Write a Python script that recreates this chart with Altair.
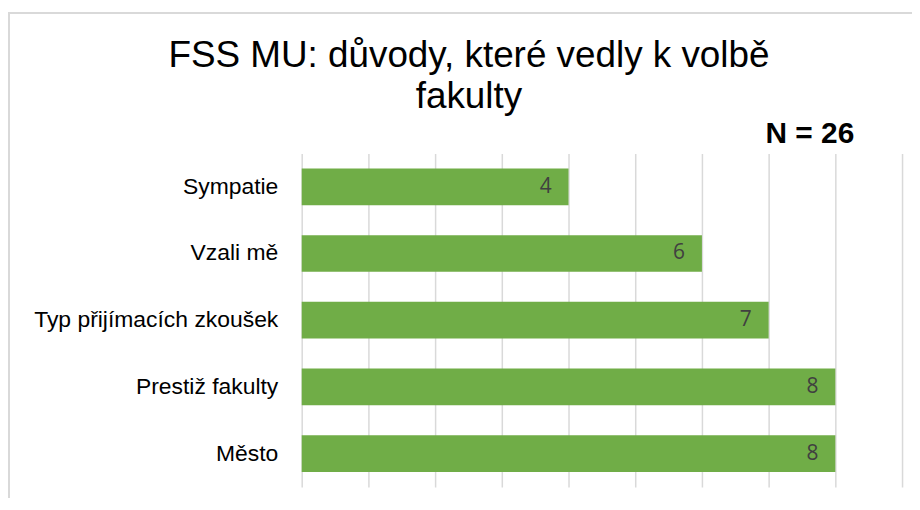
import altair as alt
import pandas as pd

categories = ["Sympatie", "Vzali mě", "Typ přijímacích zkoušek", "Prestiž fakulty", "Město"]
counts = [4, 6, 7, 8, 8]
x_ticks = list(range(0, 10))
title_lines = ["FSS MU: důvody, které vedly k volbě", "fakulty"]
note = "N = 26"

df = pd.DataFrame({"reason": categories, "count": counts})
note_df = pd.DataFrame({"t": [note]})
title_df = pd.DataFrame({"t": ["\n".join(title_lines)]})

y_enc = alt.Y(
    "reason:N", sort=categories, title=None,
    scale=alt.Scale(paddingInner=0.45, paddingOuter=0.225),
    axis=alt.Axis(labelFont="Liberation Sans", labelFontSize=23, labelColor="#000000",
                  labelPadding=24, ticks=False, domain=False, grid=False, labelLimit=400),
)
x_enc = alt.X(
    "count:Q", title=None, scale=alt.Scale(domain=[0, 9], nice=False),
    axis=alt.Axis(values=x_ticks, labels=False, ticks=False, domain=False, grid=True,
                  gridColor="#d9d9d9", gridWidth=1.5),
)

border = alt.Chart(note_df).mark_rect(fillOpacity=0, stroke="#d9d9d9", strokeWidth=2).encode(
    x=alt.value(-294), x2=alt.value(700), y=alt.value(-141), y2=alt.value(500)
)
bars = alt.Chart(df).mark_bar(color="#70AD47").encode(x=x_enc, y=y_enc)
labels = alt.Chart(df).mark_text(
    align="right", baseline="middle", dx=-17, font="Open Sans", fontSize=21, color="#404040"
).encode(x="count:Q", y=alt.Y("reason:N", sort=categories), text="count:Q")
note_mark = alt.Chart(note_df).mark_text(
    align="right", baseline="alphabetic", font="Liberation Sans", fontSize=30,
    fontWeight="bold", color="#000000"
).encode(x=alt.value(555), y=alt.value(-10), text="t:N")
title_mark = alt.Chart(title_df).mark_text(
    align="center", baseline="alphabetic", font="Liberation Sans", fontSize=37,
    color="#000000", lineBreak="\n", lineHeight=41
).encode(x=alt.value(168), y=alt.value(-87), text="t:N")

chart = alt.layer(border, bars, labels, note_mark, title_mark).properties(
    width=603, height=335,
    autosize=alt.AutoSizeParams(type="none"),
    padding={"left": 295, "top": 145, "right": 10, "bottom": 10},
).configure_view(stroke=None)

chart.save("out.html", embed_options={"renderer": "svg", "actions": False})
